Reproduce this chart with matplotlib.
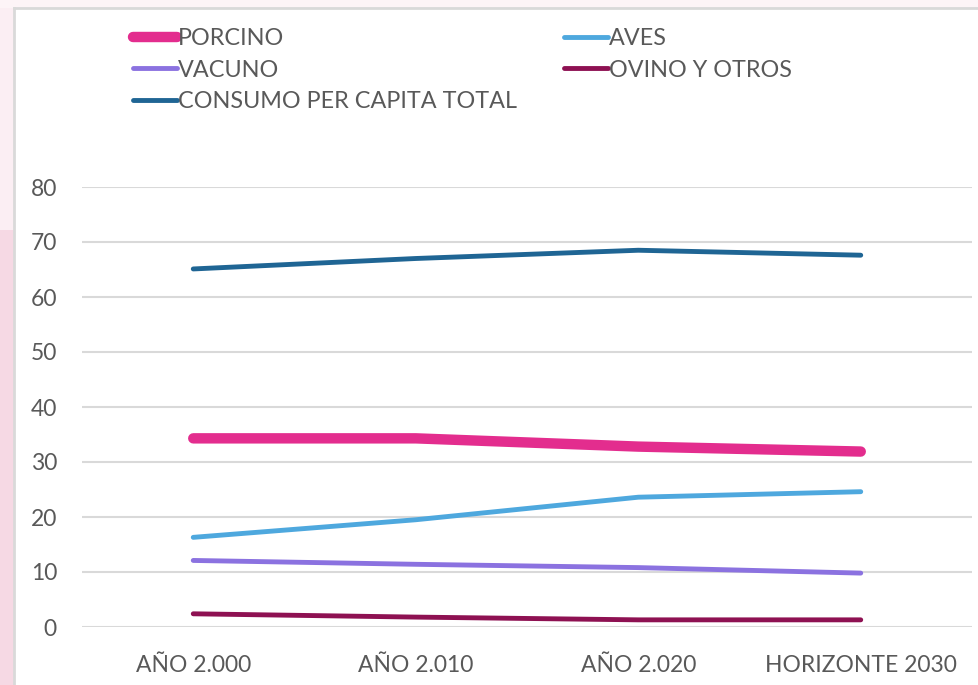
import matplotlib.pyplot as plt
from matplotlib.patches import Rectangle
from matplotlib.lines import Line2D

categories = ['AÑO 2.000', 'AÑO 2.010', 'AÑO 2.020', 'HORIZONTE 2030']
porcino = [34.3, 34.3, 32.8, 31.9]
aves = [16.3, 19.5, 23.6, 24.6]
vacuno = [12.1, 11.4, 10.8, 9.8]
ovino = [2.4, 1.8, 1.3, 1.3]
total = [65.1, 67.0, 68.5, 67.6]

W, H = 979, 685
fig = plt.figure(figsize=(W / 100, H / 100), dpi=100)
fig.patch.set_facecolor('white')

# pink backdrop on the left edge + grey frame of the chart box
fig.add_artist(Rectangle((0, 0), 14 / W, 1, transform=fig.transFigure,
                         facecolor='#fbeef3', edgecolor='none', zorder=0))
fig.add_artist(Rectangle((0, 0), 14 / W, (H - 230) / H, transform=fig.transFigure,
                         facecolor='#f6d9e4', edgecolor='none', zorder=0))
fig.add_artist(Rectangle((0, 1 - 8 / H), 1, 8 / H, transform=fig.transFigure,
                         facecolor='#fdf4f7', edgecolor='none', zorder=0))
fig.add_artist(Line2D([14 / W, 14 / W], [0, 1 - 8 / H], transform=fig.transFigure,
                      color='#d9d9d9', lw=2))
fig.add_artist(Line2D([14 / W, 1], [1 - 8 / H, 1 - 8 / H], transform=fig.transFigure,
                      color='#d9d9d9', lw=2))

ax = fig.add_axes([82 / W, 1 - 627 / H, 890 / W, 440 / H])
ax.set_facecolor('none')
x = range(len(categories))

ax.plot(x, porcino, color='#e32d8e', lw=7.5, solid_capstyle='round', label='PORCINO', zorder=3)
ax.plot(x, aves, color='#4ea8de', lw=3.5, solid_capstyle='round', label='AVES', zorder=3)
ax.plot(x, vacuno, color='#8b72e0', lw=3.5, solid_capstyle='round', label='VACUNO', zorder=3)
ax.plot(x, ovino, color='#8e1152', lw=3.5, solid_capstyle='round', label='OVINO Y OTROS', zorder=3)
ax.plot(x, total, color='#1f6594', lw=3.5, solid_capstyle='round',
        label='CONSUMO PER CAPITA TOTAL', zorder=3)

ax.set_xlim(-0.5, len(categories) - 0.5)
ax.set_ylim(0, 80)
ax.set_yticks(range(0, 81, 10))
ax.set_xticks(list(x))
ax.set_xticklabels(categories)
ax.grid(axis='y', color='#d9d9d9', lw=1.5)
ax.set_axisbelow(True)
for s in ax.spines.values():
    s.set_visible(False)
ax.tick_params(length=0, colors='#595959', labelsize=16.5)
ax.tick_params(axis='x', pad=20)
ax.tick_params(axis='y', pad=18)
for lab in ax.get_xticklabels() + ax.get_yticklabels():
    lab.set_family(['Lato', 'DejaVu Sans'])

handles, labels = ax.get_legend_handles_labels()
order = [0, 2, 4, 1, 3]
leg = fig.legend([handles[i] for i in order], [labels[i] for i in order],
                 loc='upper left', bbox_to_anchor=(121 / W, 1 - 16.5 / H),
                 bbox_transform=fig.transFigure, ncol=2, frameon=False,
                 prop={'family': ['Lato', 'DejaVu Sans'], 'size': 16.8},
                 handlelength=1.9, handletextpad=0.05, labelspacing=0.45,
                 columnspacing=2.0, borderpad=0)
for t in leg.get_texts():
    t.set_color('#595959')

fig.savefig('out.png', dpi=100)
